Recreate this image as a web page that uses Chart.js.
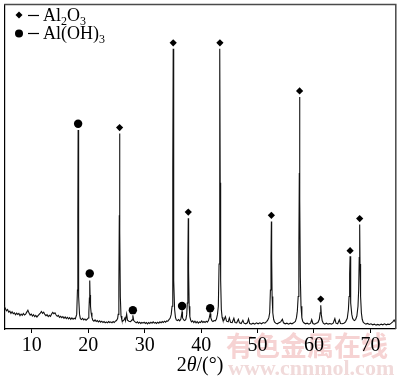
<!DOCTYPE html>
<html><head><meta charset="utf-8">
<script src="https://cdn.jsdelivr.net/npm/chart.js@4.4.1/dist/chart.umd.min.js"></script>
<style>html,body{margin:0;padding:0;background:#fff}canvas{display:block}</style>
</head><body>
<canvas id="c" width="400" height="377"></canvas>
<script>
const seriesNames = ['Al2O3', 'Al(OH)3'];
const xTicks = [10, 20, 30, 40, 50, 60, 70];
const axisTitle = ['2', 'θ', '/(°)'];
const watermark = ['有色金属在线', 'www.cnnmol.com'];

const twoTheta = [
5.1,5.3,5.5,5.7,5.9,6.1,6.3,6.5,6.7,6.9,
7.1,7.3,7.5,7.7,7.9,8.1,8.3,8.5,8.7,8.9,
9.1,9.3,9.5,9.7,9.9,10.1,10.3,10.5,10.7,10.9,
11.1,11.3,11.5,11.7,11.9,12.1,12.3,12.5,12.7,12.9,
13.1,13.3,13.5,13.7,13.9,14.1,14.3,14.5,14.7,14.9,
15.1,15.3,15.5,15.7,15.9,16.1,16.3,16.5,16.7,16.9,
17.1,17.3,17.5,17.7,17.95,18.08,18.15,18.2,18.25,18.33,
18.45,18.6,18.8,19.0,19.2,19.4,19.6,19.8,20.0,20.1,
20.2,20.26,20.32,20.4,20.5,20.65,20.8,21.0,21.2,21.4,
21.6,21.8,22.0,22.2,22.4,22.6,22.8,23.0,23.2,23.4,
23.6,23.8,24.0,24.2,24.4,24.6,24.8,25.0,25.2,25.3,
25.42,25.5,25.55,25.6,25.68,25.8,25.95,26.1,26.3,26.5,
26.6,26.8,26.95,27.2,27.5,27.75,27.9,28.05,28.3,28.5,
28.7,28.9,29.1,29.3,29.5,29.7,29.9,30.1,30.3,30.5,
30.7,30.9,31.1,31.3,31.5,31.7,31.9,32.1,32.3,32.5,
32.7,32.9,33.1,33.3,33.5,33.7,33.9,34.1,34.3,34.5,
34.7,34.85,34.95,35.0,35.05,35.1,35.18,35.3,35.45,35.6,
35.8,36.0,36.2,36.4,36.55,36.62,36.7,36.9,37.1,37.3,
37.45,37.55,37.65,37.72,37.78,37.88,38.0,38.15,38.3,38.5,
38.7,38.9,39.1,39.3,39.5,39.7,39.9,40.1,40.3,40.5,
40.7,40.9,41.1,41.3,41.45,41.6,41.72,41.9,42.1,42.3,
42.5,42.7,42.9,43.05,43.18,43.27,43.33,43.38,43.46,43.58,
43.72,43.85,44.0,44.3,44.5,44.8,45.0,45.2,45.5,45.8,
46.0,46.3,46.6,46.8,47.1,47.4,47.6,47.9,48.2,48.4,
48.6,48.9,49.2,49.5,49.8,50.1,50.4,50.7,51.0,51.3,
51.6,51.8,52.0,52.15,52.28,52.38,52.45,52.5,52.58,52.7,
52.85,53.0,53.2,53.5,53.8,54.1,54.4,54.6,54.9,55.2,
55.5,55.8,56.1,56.4,56.7,56.9,57.05,57.2,57.32,57.4,
57.45,57.5,57.58,57.7,57.85,58.0,58.2,58.5,58.8,59.1,
59.4,59.6,59.8,60.1,60.4,60.7,60.95,61.1,61.2,61.3,
61.45,61.65,61.9,62.2,62.5,62.8,63.1,63.4,63.7,63.9,
64.2,64.5,64.7,65.0,65.3,65.6,65.9,66.1,66.22,66.32,
66.4,66.46,66.55,66.7,66.85,67.0,67.2,67.4,67.6,67.8,
67.92,68.02,68.1,68.16,68.26,68.4,68.55,68.7,68.9,69.2,
69.5,69.8,70.1,70.4,70.7,71.0,71.3,71.6,71.9,72.2,
72.5,72.8,73.1,73.4,73.7,74.0,74.2,74.4,74.5
];
const intensity = [
7.0,6.3,5.6,6.0,5.2,5.5,4.8,5.3,4.7,5.0,
4.4,4.9,4.5,4.8,4.1,4.6,4.2,4.8,4.3,4.6,
5.2,5.8,4.9,4.3,4.6,4.0,4.4,3.8,4.2,3.7,
4.1,4.5,4.9,5.4,4.8,5.2,4.5,4.1,4.4,3.8,
4.2,3.9,4.6,5.1,4.7,5.0,4.3,3.9,4.2,3.6,
3.9,3.5,3.8,3.3,3.7,3.2,3.6,3.1,3.5,3.0,
3.4,3.0,3.3,3.1,4.5,12,35,61.3,32,10,
4.5,3.2,2.9,3.3,2.8,3.1,2.7,3.0,3.4,5.0,
9.5,14.9,10.5,7.0,5.0,3.6,2.7,2.4,2.8,2.3,
2.6,2.2,2.5,2.1,2.4,2.0,2.3,1.9,2.2,1.9,
2.3,2.0,2.2,1.9,2.3,2.0,2.4,2.6,3.2,4.5,
13,35,60.2,30,10,4.0,2.8,2.4,2.7,3.4,
2.6,4.6,2.7,2.4,2.3,2.8,4.2,2.6,2.2,1.9,
2.2,1.8,2.1,1.7,2.0,1.8,2.1,1.7,2.0,1.6,
2.0,1.7,2.1,1.8,2.2,1.8,2.0,1.7,2.1,1.8,
2.2,1.9,2.3,2.0,2.4,2.1,2.5,2.4,2.9,3.3,
4.5,7,20,50,86.3,45,15,6,3.6,2.8,
2.6,2.9,2.5,3.0,4.5,5.3,3.5,2.8,2.6,3.0,
4.5,8,20,34.1,18,7,3.8,2.7,2.2,2.5,
2.0,2.4,1.9,2.3,1.8,2.2,2.0,2.5,2.0,2.3,
2.0,2.4,2.1,2.6,3.5,4.8,3.4,2.6,2.3,2.6,
2.5,3.0,4.5,7,20,50,86.3,45,15,6,
3.6,2.8,2.6,3.8,2.4,2.2,3.4,2.1,2.0,3.3,
2.0,1.9,3.0,1.9,1.7,2.7,1.8,1.6,1.9,3.1,
1.7,1.5,1.8,1.5,1.9,1.6,1.9,1.6,2.0,1.8,
2.3,2.7,3.5,5,12,22,33.1,22,10,5,
3.0,2.2,1.8,1.6,1.9,2.2,3.0,1.9,1.6,1.8,
1.5,1.8,1.6,1.9,2.3,3.5,5.5,10,25,48,
71.4,40,16,7,3.5,2.4,1.9,1.6,1.8,1.5,
1.8,2.9,1.7,1.5,1.8,2.0,3.0,5.0,7.3,4.5,
2.6,1.8,1.5,1.8,1.5,1.7,1.5,1.8,3.2,1.8,
1.6,2.8,1.7,1.6,1.8,2.2,3.3,6.0,10,17,
22.4,15,8,4.5,3.3,2.8,2.6,3.0,4.0,7,
12,22,32.2,20,10,5,3,2.2,1.8,1.5,
1.7,1.4,1.6,1.3,1.5,1.2,1.4,1.2,1.5,1.3,
1.6,1.3,1.5,1.4,1.8,2.3,2.8,2.2,2.0
];

const al2o3Theta = [25.55, 35.05, 37.72, 43.33, 52.45, 57.45, 61.2, 66.4, 68.1];
const al2o3Mark  = [62.0, 88.1, 36.0, 88.1, 35.0, 73.3, 9.2, 24.1, 34.0];
const aloh3Theta = [18.2, 20.26, 27.9, 36.62, 41.6];
const aloh3Mark  = [63.2, 17.1, 5.8, 7.1, 6.4];

const SERIF = '"Liberation Serif", "Times New Roman", serif';

const pattern = twoTheta.map((x, i) => ({ x, y: intensity[i] }));
const mA = al2o3Theta.map((x, i) => ({ x, y: al2o3Mark[i] }));
const mB = aloh3Theta.map((x, i) => ({ x, y: aloh3Mark[i] }));

function drawSubText(ctx, parts, x, y, size) {
  let cx = x;
  parts.forEach(([t, sub]) => {
    ctx.font = (sub ? Math.round(size * 0.68) : size) + 'px ' + SERIF;
    ctx.fillText(t, cx, sub ? y + 4 : y);
    cx += ctx.measureText(t).width;
  });
}

const decor = {
  id: 'decor',
  beforeDraw(chart) {
    const ctx = chart.ctx;
    ctx.save();
    ctx.fillStyle = '#f6d3d3';
    ctx.font = 'bold 27px "Noto Sans CJK SC", sans-serif';
    ctx.textBaseline = 'alphabetic';
    ctx.textAlign = 'left';
    ctx.fillText(watermark[0], 226, 356);
    ctx.fillStyle = '#f1dada';
    ctx.font = 'bold 22px ' + SERIF;
    ctx.fillText(watermark[1], 228, 375);
    ctx.restore();
  },
  afterDraw(chart) {
    const ctx = chart.ctx;
    const a = chart.chartArea;
    ctx.save();
    ctx.strokeStyle = '#4a4a4a';
    ctx.lineWidth = 1.5;
    ctx.beginPath();
    ctx.moveTo(a.left, a.top + 0.25);
    ctx.lineTo(a.right, a.top + 0.25);
    ctx.lineTo(a.right, a.bottom);
    ctx.stroke();

    ctx.fillStyle = '#000';
    ctx.strokeStyle = '#000';
    ctx.lineWidth = 1.2;
    ctx.beginPath();
    ctx.moveTo(19, 11.5); ctx.lineTo(22.5, 15); ctx.lineTo(19, 18.5); ctx.lineTo(15.5, 15); ctx.closePath();
    ctx.fill();
    ctx.beginPath(); ctx.moveTo(28, 15.5); ctx.lineTo(39, 15.5); ctx.stroke();
    ctx.textBaseline = 'alphabetic';
    ctx.textAlign = 'left';
    drawSubText(ctx, [['Al', false], ['2', true], ['O', false], ['3', true]], 43, 21, 18);
    ctx.beginPath(); ctx.arc(19, 33.5, 4, 0, Math.PI * 2); ctx.fill();
    ctx.beginPath(); ctx.moveTo(28, 33.5); ctx.lineTo(39, 33.5); ctx.stroke();
    drawSubText(ctx, [['Al(OH)', false], ['3', true]], 43, 39, 18);

    const fN = '20px ' + SERIF, fI = 'italic 20px ' + SERIF;
    ctx.font = fN; const w1 = ctx.measureText(axisTitle[0]).width;
    ctx.font = fI; const w2 = ctx.measureText(axisTitle[1]).width;
    ctx.font = fN; const w3 = ctx.measureText(axisTitle[2]).width;
    let x0 = 200 - (w1 + w2 + w3) / 2;
    const yb = 371;
    ctx.font = fN; ctx.fillText(axisTitle[0], x0, yb); x0 += w1;
    ctx.font = fI; ctx.fillText(axisTitle[1], x0, yb); x0 += w2;
    ctx.font = fN; ctx.fillText(axisTitle[2], x0, yb);
    ctx.restore();
  }
};

new Chart(document.getElementById('c'), {
  type: 'scatter',
  data: {
    datasets: [
      { label: 'pattern', data: pattern, showLine: true, borderColor: '#111', borderWidth: 1.1,
        pointRadius: 0, tension: 0, order: 2 },
      { label: seriesNames[0], data: mA, pointStyle: 'rectRot', pointRadius: 3.6,
        backgroundColor: '#000', borderColor: '#000', borderWidth: 0, order: 1 },
      { label: seriesNames[1], data: mB, pointStyle: 'circle', pointRadius: 4.2,
        backgroundColor: '#000', borderColor: '#000', borderWidth: 0, order: 1 }
    ]
  },
  options: {
    responsive: false,
    animation: false,
    devicePixelRatio: 1,
    layout: { padding: { left: 1, right: 2, top: 1, bottom: 0 } },
    plugins: { legend: { display: false }, tooltip: { enabled: false } },
    scales: {
      x: {
        type: 'linear', min: 5.1, max: 74.5,
        afterBuildTicks: (s) => { s.ticks = xTicks.map(v => ({ value: v })); },
        afterFit: (s) => { s.height = 48; s.paddingLeft = 0; s.paddingRight = 0; },
        ticks: { color: '#000', font: { family: SERIF, size: 20 }, padding: 1, maxRotation: 0 },
        grid: { display: true, drawOnChartArea: false, drawTicks: true, tickLength: 4, color: '#000', lineWidth: 1 },
        border: { display: true, color: '#000', width: 1.2 }
      },
      y: {
        min: 0, max: 100,
        afterFit: (s) => { s.width = 0; },
        ticks: { display: false },
        grid: { display: false },
        border: { display: true, color: '#000', width: 1.2 }
      }
    }
  },
  plugins: [decor]
});
</script>
</body></html>
